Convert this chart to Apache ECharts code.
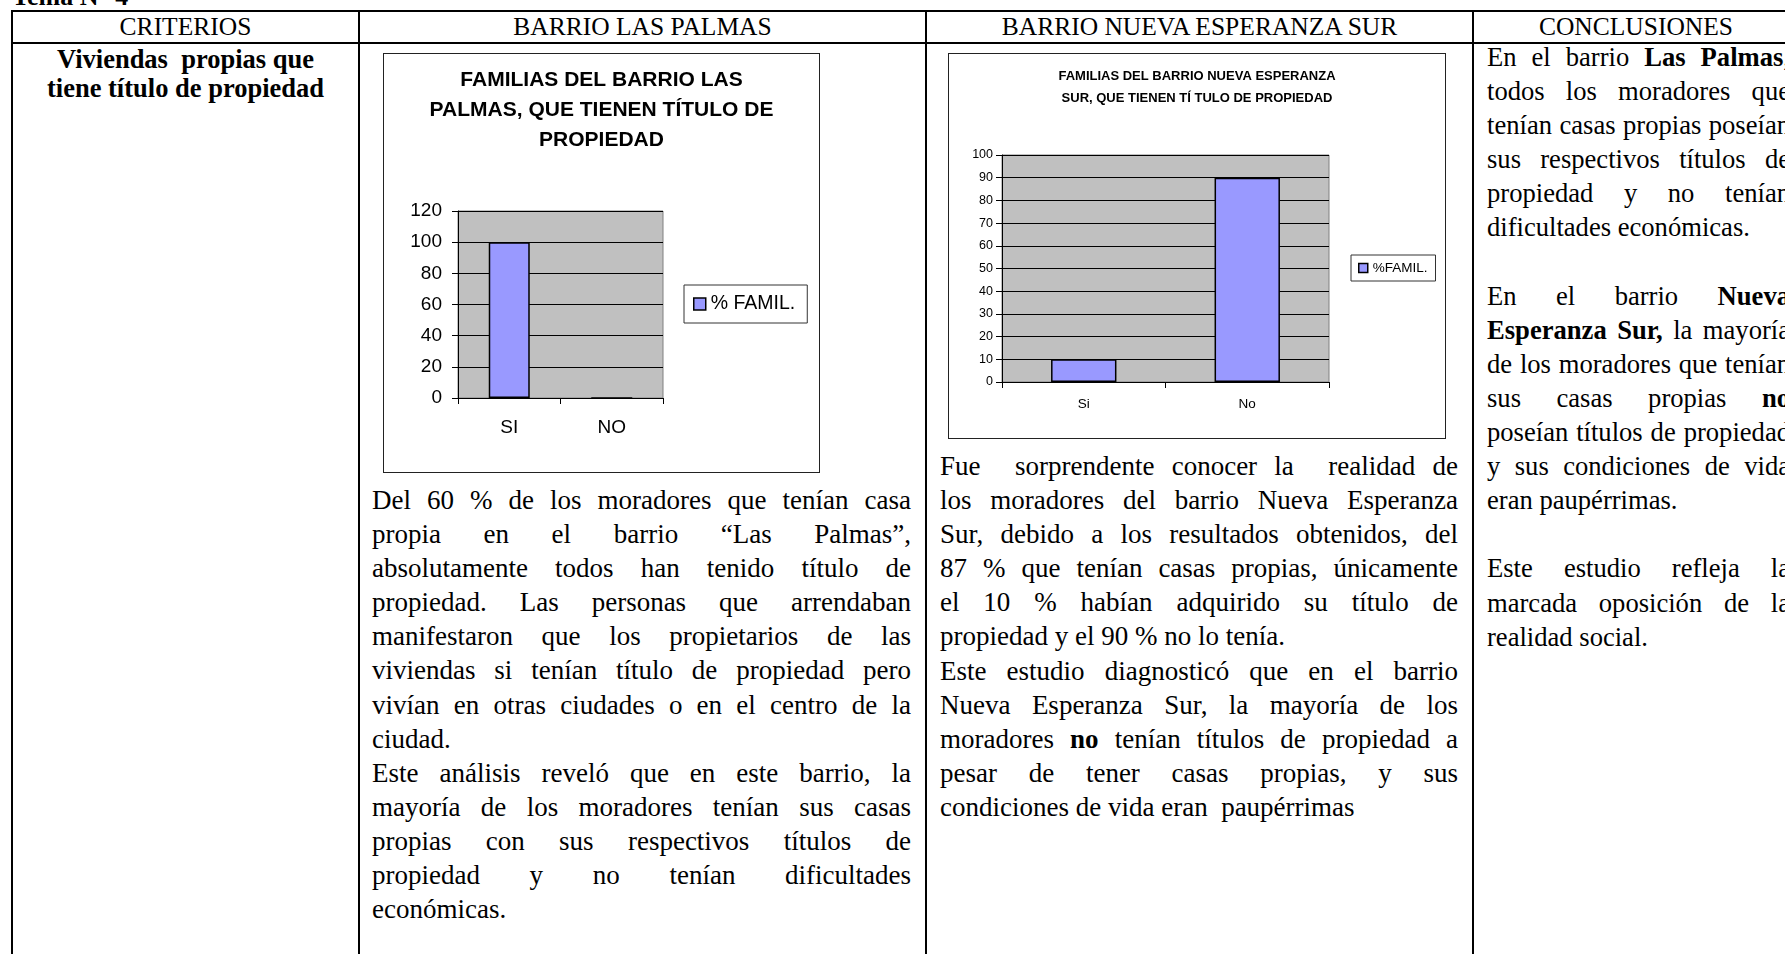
<!DOCTYPE html>
<html><head><meta charset="utf-8">
<script src="https://cdn.jsdelivr.net/npm/echarts/dist/echarts.min.js"></script>
<style>
html,body{margin:0;padding:0;background:#fff;width:1785px;height:954px;overflow:hidden;}
body{position:relative;font-family:'Liberation Serif','Times New Roman',serif;color:#000;}
.ln{position:absolute;background:#000;}
.hdr{position:absolute;top:11px;height:32px;line-height:32px;font-size:25.5px;text-align:center;white-space:nowrap;}
.col{position:absolute;font-size:27px;line-height:34.1px;}
.col div{text-align:justify;text-align-last:justify;}
.col div.last{text-align-last:left;}
.box{position:absolute;border:1.5px solid #222;box-sizing:border-box;background:#fff;}
.box .ch{position:absolute;left:0;top:0;right:0;bottom:0;}
</style></head>
<body>
<div style="position:absolute;left:12px;top:-18px;font-weight:bold;font-size:26px;line-height:30px;white-space:nowrap;">Tema N° 4</div>

<div class="ln" style="left:11px;top:10px;width:1800px;height:2px;"></div>
<div class="ln" style="left:11px;top:42px;width:1800px;height:2px;"></div>
<div class="ln" style="left:11px;top:10px;width:2px;height:960px;"></div>
<div class="ln" style="left:358px;top:10px;width:2px;height:960px;"></div>
<div class="ln" style="left:925px;top:10px;width:2px;height:960px;"></div>
<div class="ln" style="left:1472px;top:10px;width:2px;height:960px;"></div>

<div class="hdr" style="left:12px;width:347px;">CRITERIOS</div>
<div class="hdr" style="left:359px;width:567px;">BARRIO LAS PALMAS</div>
<div class="hdr" style="left:926px;width:547px;">BARRIO NUEVA ESPERANZA SUR</div>
<div class="hdr" style="left:1473px;width:326px;">CONCLUSIONES</div>

<div style="position:absolute;left:12px;width:347px;top:45px;text-align:center;font-weight:bold;font-size:26.5px;line-height:29px;">Viviendas&nbsp; propias que<br>tiene título de propiedad</div>

<div class="box" style="left:383px;top:53px;width:437px;height:420px;"><div class="ch" id="c1"></div></div>
<div class="box" style="left:948px;top:53px;width:498px;height:386px;"><div class="ch" id="c2"></div></div>

<div class="col" id="t2" style="left:372px;top:483px;width:539px;"></div>
<div class="col" id="t3" style="left:940px;top:449px;width:518px;"></div>
<div class="col" id="t4" style="left:1487px;top:40px;width:303px;font-size:26.6px;"></div>

<script>
// ---- chart data ----
const catsLasPalmas = ['SI', 'NO'];
const valsLasPalmas = [100, 0];
const yMaxLasPalmas = 120, yStepLasPalmas = 20;
const legendLasPalmas = '% FAMIL.';
const titleLasPalmas = 'FAMILIAS DEL BARRIO LAS\nPALMAS, QUE TIENEN TÍTULO DE\nPROPIEDAD';

const catsNueva = ['Si', 'No'];
const valsNueva = [10, 90];
const yMaxNueva = 100, yStepNueva = 10;
const legendNueva = '%FAMIL.';
const titleNueva = 'FAMILIAS DEL BARRIO NUEVA ESPERANZA\nSUR, QUE TIENEN TÍ TULO DE PROPIEDAD';

// ---- document text (line by line, as in the original) ----
const text2 = [
 ['Del 60 % de los moradores que tenían casa'],
 ['propia en el barrio “Las Palmas”,'],
 ['absolutamente todos han tenido título de'],
 ['propiedad. Las personas que arrendaban'],
 ['manifestaron que los propietarios de las'],
 ['viviendas si tenían título de propiedad pero'],
 ['vivían en otras ciudades o en el centro de la'],
 ['ciudad.', 'last'],
 ['Este análisis reveló que en este barrio, la'],
 ['mayoría de los moradores tenían sus casas'],
 ['propias con sus respectivos títulos de'],
 ['propiedad y no tenían dificultades'],
 ['económicas.', 'last']
];
const text3 = [
 ['Fue&nbsp; sorprendente conocer la&nbsp; realidad de'],
 ['los moradores del barrio Nueva Esperanza'],
 ['Sur, debido a los resultados obtenidos, del'],
 ['87 % que tenían casas propias, únicamente'],
 ['el 10 % habían adquirido su título de'],
 ['propiedad y el 90 % no lo tenía.', 'last'],
 ['Este estudio diagnosticó que en el barrio'],
 ['Nueva Esperanza Sur, la mayoría de los'],
 ['moradores <b>no</b> tenían títulos de propiedad a'],
 ['pesar de tener casas propias, y sus'],
 ['condiciones de vida eran&nbsp; paupérrimas', 'last']
];
const text4 = [
 ['En el barrio <b>Las Palmas</b>,'],
 ['todos los moradores que'],
 ['tenían casas propias poseían'],
 ['sus respectivos títulos de'],
 ['propiedad y no tenían'],
 ['dificultades económicas.', 'last'],
 ['&nbsp;', 'last'],
 ['En el barrio <b>Nueva</b>'],
 ['<b>Esperanza Sur,</b> la mayoría'],
 ['de los moradores que tenían'],
 ['sus casas propias <b>no</b>'],
 ['poseían títulos de propiedad'],
 ['y sus condiciones de vida'],
 ['eran paupérrimas.', 'last'],
 ['&nbsp;', 'last'],
 ['Este estudio refleja la'],
 ['marcada oposición de la'],
 ['realidad social.', 'last']
];
function fill(id, lines){
  document.getElementById(id).innerHTML = lines.map(l =>
    '<div' + (l[1] ? ' class="last"' : '') + '>' + l[0] + '</div>').join('');
}
fill('t2', text2); fill('t3', text3); fill('t4', text4);

const SANS = 'Liberation Sans';
function barOption(o){
  return {
    animation: false,
    backgroundColor: '#fff',
    title: {
      text: o.title, left: 'center', top: o.titleTop, padding: 0,
      textStyle: {fontFamily: SANS, fontWeight: 'bold', fontSize: o.titleSize,
                  lineHeight: o.titleLH, color: '#000'}
    },
    legend: {
      data: [o.name], left: o.legLeft, top: o.legTop, orient: 'vertical',
      icon: 'rect', itemWidth: o.iconSize, itemHeight: o.iconSize, itemGap: 0,
      padding: o.legPad, borderColor: '#333', borderWidth: 1, backgroundColor: '#fff',
      selectedMode: false,
      itemStyle: {borderColor: '#000', borderWidth: 1.5},
      textStyle: {fontFamily: SANS, fontSize: o.legFont, color: '#000'}
    },
    grid: {
      left: o.gl, top: o.gt, width: o.gw, height: o.gh, show: true,
      backgroundColor: '#c0c0c0', borderColor: '#808080', borderWidth: 1,
      containLabel: false, outerBoundsMode: 'none'
    },
    xAxis: {
      type: 'category', data: o.cats,
      axisLine: {show: true, lineStyle: {color: '#000', width: 1}},
      axisTick: {show: true, length: 6, lineStyle: {color: '#000', width: 1}},
      axisLabel: {color: '#000', fontFamily: SANS, fontSize: o.xFont, margin: o.xMargin},
      splitLine: {show: false}
    },
    yAxis: {
      type: 'value', min: 0, max: o.ymax, interval: o.ystep,
      axisLine: {show: true, lineStyle: {color: '#000', width: 1}},
      axisTick: {show: true, length: 6, lineStyle: {color: '#000', width: 1}},
      axisLabel: {color: '#000', fontFamily: SANS, fontSize: o.yFont, margin: o.yMargin,
                  showMinLabel: true, showMaxLabel: true},
      splitLine: {show: true, lineStyle: {color: '#000', width: 1}}
    },
    series: [{
      type: 'bar', name: o.name, data: o.vals, barWidth: '40%',
      itemStyle: {color: '#9999ff', borderColor: '#000', borderWidth: 1.5},
      emphasis: {disabled: true}
    }]
  };
}

const c1 = echarts.init(document.getElementById('c1'), null, {renderer: 'canvas'});
c1.setOption(barOption({
  title: titleLasPalmas, titleTop: 11, titleSize: 21, titleLH: 30,
  name: legendLasPalmas, legLeft: 300, legTop: 231, iconSize: 12, legPad: [9, 12, 9, 9], legFont: 19.5,
  gl: 74, gt: 157, gw: 205, gh: 187,
  cats: catsLasPalmas, vals: valsLasPalmas, ymax: yMaxLasPalmas, ystep: yStepLasPalmas,
  xFont: 19, xMargin: 20, yFont: 19, yMargin: 16
}));

const c2 = echarts.init(document.getElementById('c2'), null, {renderer: 'canvas'});
c2.setOption(barOption({
  title: titleNueva, titleTop: 11, titleSize: 13, titleLH: 22,
  name: legendNueva, legLeft: 402, legTop: 201, iconSize: 9, legPad: [6, 8, 6, 7], legFont: 13.5,
  gl: 53, gt: 101, gw: 327, gh: 227,
  cats: catsNueva, vals: valsNueva, ymax: yMaxNueva, ystep: yStepNueva,
  xFont: 13.5, xMargin: 15, yFont: 12.5, yMargin: 9
}));
</script>
</body></html>
